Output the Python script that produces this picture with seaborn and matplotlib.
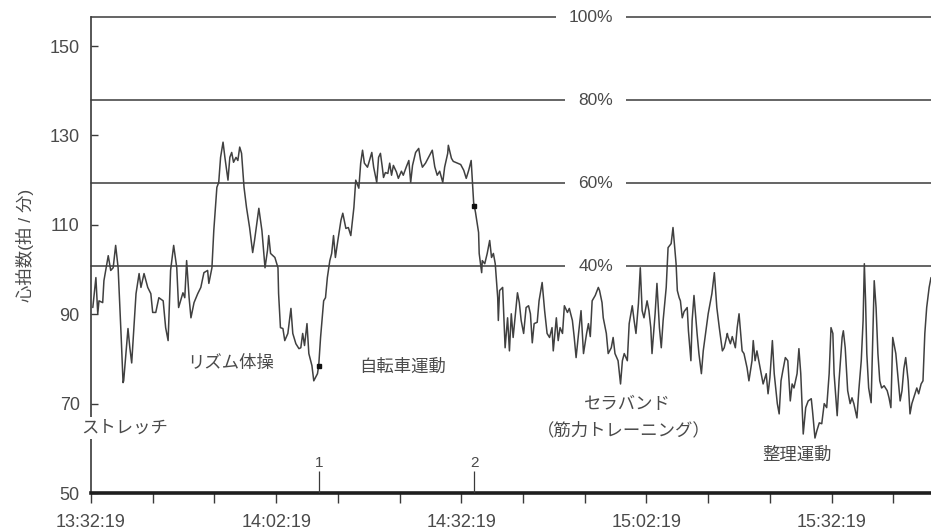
import numpy as np
import matplotlib
matplotlib.use("Agg")
import matplotlib.pyplot as plt
import seaborn as sns

# minutes after 13:32:19 and heart rate (beats/min)
minutes = [
    0.3, 0.8, 1.1, 1.3, 1.9, 2.1, 2.8, 3.2, 3.6, 4.0, 4.4, 4.9, 5.2, 5.3, 6.0, 6.3, 6.6,
    7.3, 7.8, 8.1, 8.6, 9.2, 9.7, 10.0, 10.5, 11.0, 11.7, 12.1, 12.5, 12.9, 13.4, 13.9,
    14.2, 14.9, 15.2, 15.5, 15.9, 16.2, 16.7, 17.3, 17.8, 18.3, 18.9, 19.1, 19.6, 19.9,
    20.4, 20.7, 21.0, 21.4, 21.7, 22.2,
    22.5, 22.8, 23.1, 23.5, 23.8, 24.1, 24.4, 24.8, 25.2, 25.7, 26.2, 26.5, 27.2, 27.7,
    28.2, 28.6, 28.8, 29.1, 29.8, 30.3, 30.4, 30.7, 31.1, 31.4, 31.9, 32.4, 32.7, 33.2,
    33.7, 34.0, 34.3, 34.6, 35.0, 35.3, 35.8, 36.1, 36.7, 36.9, 37.2, 37.7, 38.0, 38.3,
    38.7, 39.0, 39.3, 39.6, 40.0, 40.5, 40.8, 41.3, 41.7, 42.1, 42.6, 42.9, 43.4, 43.7,
    44.0, 44.3, 44.8,
    45.0, 45.5, 45.8, 46.3, 46.6, 46.9, 47.2, 47.4, 47.7, 48.1, 48.4, 48.7, 49.0, 49.5,
    49.8, 50.3, 50.6, 51.1, 51.5, 51.8, 52.1, 52.6, 53.1, 53.4, 53.7, 54.2, 54.7, 55.3,
    55.7, 56.1, 56.5, 57.0, 57.3, 57.8, 57.9, 58.4, 58.7, 59.4, 59.9, 60.4, 60.8, 61.2,
    61.6, 61.8, 62.0, 62.3, 62.8, 62.9, 63.3, 63.4, 63.8, 64.2, 64.6, 64.9, 65.2, 65.5,
    65.9, 66.0, 66.2, 66.7,
    67.1, 67.5, 67.8, 68.1, 68.4, 69.1, 69.4, 69.7, 70.1, 70.5, 70.9, 71.2, 71.5, 71.8,
    72.3, 72.6, 73.1, 73.5, 73.9, 74.3, 74.7, 74.9, 75.4, 75.7, 76.0, 76.4, 76.7, 77.2,
    77.5, 78.0, 78.3, 78.6, 79.0, 79.4, 79.8, 80.3, 80.6, 80.9, 81.2, 81.7, 82.2, 82.4,
    82.8, 83.0, 83.5, 83.8, 84.3, 84.6, 84.9, 85.4, 85.8, 86.1, 86.4, 86.9, 87.2, 87.7,
    88.0, 88.3, 88.7, 89.0, 89.3, 89.6, 90.1, 90.4,
    90.7, 90.9, 91.4, 91.7, 92.1, 92.4, 92.7, 93.2, 93.5, 94.0, 94.3, 94.8, 95.0, 95.3,
    95.5, 95.8, 96.1, 96.6, 96.8, 97.2, 97.4, 97.7, 98.2, 98.5, 98.9, 99.2, 99.7, 100.0,
    100.3, 100.6, 101.0, 101.4, 101.8, 102.3, 102.6, 103.1, 103.2, 103.6, 103.9, 104.4,
    104.7, 105.0, 105.5, 105.8, 106.3, 106.6, 107.1, 107.3, 107.6, 107.9, 108.2, 108.7,
    108.9, 109.4, 109.7, 110.0, 110.4, 110.7, 111.2, 111.5, 111.8, 112.1,
    112.5, 112.9, 113.3, 113.6, 113.9, 114.4, 114.7, 115.0, 115.4, 115.8, 116.2, 116.7,
    116.9, 117.3, 117.6, 118.0, 118.4, 118.8, 119.2, 119.6, 119.9, 120.2, 120.4, 120.9,
    121.2, 121.7, 121.9, 122.2, 122.6, 123.0, 123.3, 123.6, 124.1, 124.4, 124.8, 125.1,
    125.3, 125.5, 125.7, 126.0, 126.4, 126.6, 126.9, 127.2, 127.5, 127.8, 128.1, 128.5,
    129.0, 129.3, 129.6, 129.9, 130.4, 130.7, 131.1, 131.4, 131.7, 132.0, 132.4, 132.7,
    133.0, 133.5, 133.8, 134.1, 134.5, 134.8, 135.1, 135.4, 135.8, 136.1,
]
heart_rate = [
    91.5, 98.2, 90.1, 93.0, 92.6, 97.5, 103.1, 99.8, 100.4, 105.4, 100.4, 84.8, 74.7, 75.1,
    86.8, 82.5, 79.1, 94.6, 99.1, 96.0, 99.1, 96.0, 94.6, 90.4, 90.4, 93.7, 93.0, 87.0,
    84.1, 99.8, 105.4, 100.4, 91.5, 94.8, 93.7, 102.0, 93.7, 89.2, 92.6, 94.6, 96.0, 99.3,
    99.8, 96.9, 100.4, 108.7, 118.4, 119.5, 125.1, 128.5, 125.1, 120.0,
    125.1, 126.2, 124.0, 125.1, 124.4, 127.4, 126.0, 118.4, 113.9, 109.4, 103.8, 106.5,
    113.7, 108.7, 100.4, 104.3, 107.6, 103.6, 102.7, 100.4, 94.6, 87.0, 86.8, 84.1, 85.7,
    91.3, 85.7, 83.4, 82.3, 82.5, 85.7, 83.0, 87.9, 81.2, 78.5, 75.1, 76.7, 78.5, 84.8,
    93.0, 93.7, 98.2, 102.0, 103.6, 107.6, 102.7, 106.5, 111.0, 112.6, 109.2, 109.4, 107.6,
    113.9, 120.0, 118.2, 123.8, 126.7, 123.8, 122.9,
    123.8, 126.2, 122.9, 119.5, 125.1, 126.0, 122.9, 120.6, 121.7, 121.5, 123.8, 121.1,
    123.3, 121.8, 120.4, 122.0, 121.1, 123.0, 124.4, 119.5, 123.3, 126.2, 127.1, 124.5,
    122.9, 123.8, 125.1, 126.7, 123.0, 121.1, 122.0, 119.5, 122.9, 126.0, 127.8, 124.9,
    124.2, 123.8, 123.5, 122.2, 120.4, 122.2, 124.4, 119.5, 115.0, 112.8, 108.3, 103.6,
    99.3, 102.0, 101.3, 103.6, 106.5, 102.7, 103.6, 101.3, 93.7, 88.6, 95.3, 96.0,
    82.5, 89.2, 81.8, 90.1, 84.8, 94.8, 92.6, 88.6, 85.7, 91.5, 91.9, 90.1, 83.6, 87.9,
    88.2, 93.0, 97.1, 90.8, 85.7, 84.8, 87.0, 81.8, 89.2, 84.1, 87.0, 85.7, 91.9, 90.4,
    91.3, 88.6, 84.8, 80.3, 85.7, 90.8, 81.2, 85.7, 87.9, 85.0, 93.0, 94.2, 96.0, 95.3,
    92.6, 89.2, 85.7, 81.2, 82.5, 84.8, 81.2, 79.6, 74.4, 79.6, 81.2, 79.6, 87.9, 91.9,
    88.6, 85.7, 92.4, 100.4, 90.8, 89.2, 93.0, 90.8,
    87.0, 81.2, 90.1, 96.9, 87.0, 82.5, 88.6, 96.0, 104.9, 105.8, 109.4, 101.3, 95.3, 93.7,
    93.0, 89.2, 90.6, 91.5, 86.3, 79.6, 88.6, 94.2, 85.7, 81.2, 76.7, 81.8, 87.0, 90.1,
    92.4, 94.6, 99.3, 91.5, 87.0, 81.8, 82.5, 85.7, 85.0, 83.4, 85.0, 82.5,
    87.0, 90.1, 81.8, 81.2, 78.0, 75.1, 79.6, 84.1, 79.6, 81.8, 79.6, 75.8,
    74.4, 76.7, 72.2, 75.8, 84.1, 76.7, 70.0, 67.7, 75.1, 77.4,
    80.3, 79.6, 70.6, 74.4, 73.5, 76.7, 82.3, 76.7, 63.2, 69.1, 70.6, 71.1,
    68.4, 62.3, 63.9, 65.7, 65.5, 70.0, 69.1, 76.7, 87.0, 85.7, 76.7, 67.3,
    75.1, 84.8, 86.3, 82.5, 72.9, 70.0, 71.3, 70.0, 66.8, 72.9, 79.6, 88.6,
    101.3, 93.0, 81.2, 73.5, 70.2, 81.2, 97.5, 91.5, 81.2, 75.1, 73.5, 74.0,
    72.9, 71.3, 69.1, 84.8, 81.2, 76.7, 70.6, 72.9, 77.8, 80.3, 75.1, 67.7,
    70.0, 72.2, 73.5, 72.2, 74.4, 75.1, 85.7, 91.5, 96.0, 98.2,
]

# training-intensity reference lines (heart-rate reserve)
zone_labels = ["40%", "60%", "80%", "100%"]
zone_levels = [100.7, 119.3, 137.9, 156.5]

tick_minutes = [0, 30, 60, 90, 120]
tick_labels = ["13:32:19", "14:02:19", "14:32:19", "15:02:19", "15:32:19"]

event_labels = ["1", "2"]
event_minutes = [36.9, 62.1]

stage_labels = ["ストレッチ", "リズム体操", "自転車運動", "セラバンド", "（筋力トレーニング）", "整理運動"]
stage_minutes = [5.5, 22.7, 50.5, 86.9, 86.3, 114.4]
stage_bpm = [64.5, 79.1, 78.2, 69.9, 64.1, 58.5]

sns.set_style("ticks")
plt.rcParams["font.family"] = ["Liberation Sans", "Noto Sans CJK JP", "DejaVu Sans"]

text_col = "#4a4a4a"
line_col = "#3a3a3a"

fig = plt.figure(figsize=(9.31, 5.32), dpi=100)
ax = fig.add_axes([0.0977, 0.0733, 0.9023, 0.8947])

# reference lines, each broken by its percentage label
for lab, lev in zip(zone_labels, zone_levels):
    ax.axhline(lev, color=line_col, lw=1.1, zorder=2, clip_on=False)
    ax.text(84.6, lev, lab, ha="right", va="center", fontsize=12.5, color=text_col,
            zorder=3, bbox=dict(boxstyle="square,pad=0.75", fc="white", ec="none"))

sns.lineplot(x=minutes, y=heart_rate, ax=ax, color="#404040", linewidth=1.1,
             zorder=4, sort=False)

# event marks on the trace and on the baseline
ev_bpm = np.interp(event_minutes, minutes, heart_rate)
ax.plot(event_minutes, ev_bpm, "s", ms=3, color="#111111", zorder=5)
for lab, t in zip(event_labels, event_minutes):
    ax.vlines(t, 50, 55, color=line_col, lw=0.9, zorder=3)
    ax.text(t, 56.7, lab, ha="center", va="center", fontsize=11, color=text_col)

for lab, t, v in zip(stage_labels, stage_minutes, stage_bpm):
    ax.text(t, v, lab, ha="center", va="center", fontsize=12.5, color=text_col, zorder=3,
            bbox=dict(boxstyle="square,pad=0.2", fc="white", ec="none"))

ax.set_xlim(0, 136.1)
ax.set_ylim(50, 156.5)
ax.set_yticks([50, 70, 90, 110, 130, 150])
ax.set_xticks(np.arange(0, 136, 10))
ax.set_xticklabels([tick_labels[tick_minutes.index(m)] if m in tick_minutes else ""
                    for m in range(0, 136, 10)])

sns.despine(ax=ax, top=True, right=True)
ax.spines["left"].set_color(line_col)
ax.spines["left"].set_linewidth(1.2)
ax.spines["bottom"].set_color("#1e1e1e")
ax.spines["bottom"].set_linewidth(2.6)

ax.tick_params(axis="y", direction="in", length=5, width=1, color=line_col,
               labelsize=13, labelcolor=text_col, pad=8)
ax.tick_params(axis="x", direction="out", length=7, width=1, color=line_col,
               labelsize=13, labelcolor=text_col, pad=8)
ax.set_xlabel("")
ax.set_ylabel("")

fig.text(25 / 931, 1 - 245 / 532, "心拍数(拍 / 分)", rotation=90, ha="center", va="center",
         fontsize=12.5, color=text_col)

fig.savefig("out.png", dpi=100)
